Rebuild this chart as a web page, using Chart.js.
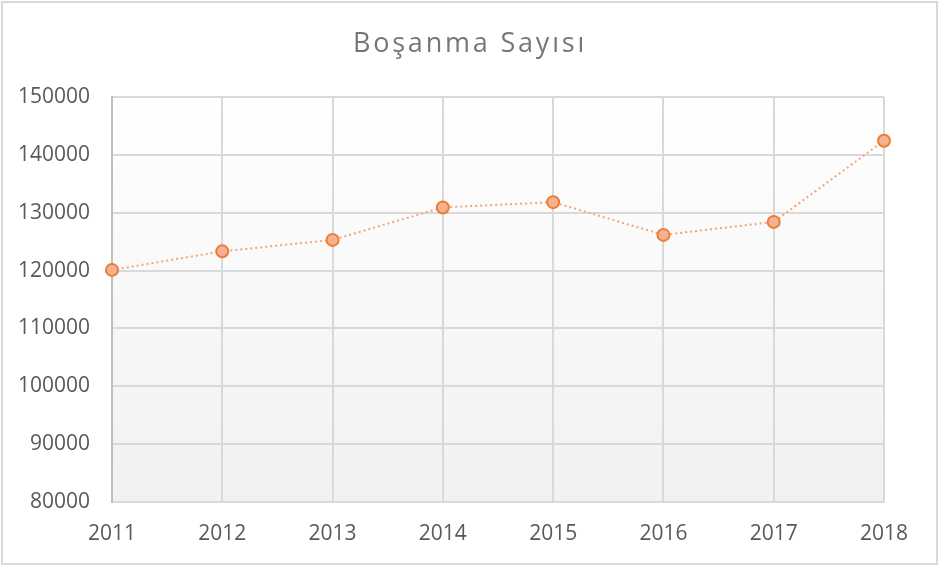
<!DOCTYPE html>
<html>
<head>
<meta charset="utf-8">
<script src="https://cdn.jsdelivr.net/npm/chart.js@4.4.1/dist/chart.umd.min.js"></script>
<style>
  html, body { margin: 0; padding: 0; background: #fff; }
  #wrap { width: 940px; height: 566px; position: relative; }
</style>
</head>
<body>
<div id="wrap"><canvas id="canvas" width="940" height="566"></canvas></div>
<script>
// Boşanma sayıları (yıllara göre)
const titleText = 'Boşanma Sayısı';
const years = ['2011', '2012', '2013', '2014', '2015', '2016', '2017', '2018'];
const divorces = [120117, 123325, 125305, 130913, 131830, 126164, 128411, 142448];
const yMin = 80000;
const yMax = 150000;
const yStep = 10000;

const FONT = '"Open Sans", "Liberation Sans", sans-serif';

// plot area gradient, outer frame and the spaced-out title
const chartBackground = {
    id: 'chartBackground',
    beforeDraw(chart) {
        const {ctx, chartArea} = chart;
        const g = ctx.createLinearGradient(0, chartArea.top, 0, chartArea.bottom);
        g.addColorStop(0, '#ffffff');
        g.addColorStop(1, '#f1f1f1');
        ctx.save();
        ctx.fillStyle = g;
        ctx.fillRect(chartArea.left, chartArea.top, chartArea.right - chartArea.left, chartArea.bottom - chartArea.top);
        ctx.restore();
    },
    afterDraw(chart) {
        const {ctx} = chart;
        ctx.save();
        ctx.strokeStyle = '#d9d9d9';
        ctx.lineWidth = 2;
        ctx.strokeRect(2, 2, 935, 562);

        ctx.font = '27px ' + FONT;
        ctx.letterSpacing = '2.8px';
        ctx.fillStyle = '#767676';
        ctx.textAlign = 'center';
        ctx.textBaseline = 'middle';
        ctx.fillText(titleText, chart.width / 2, 44);
        ctx.restore();
    }
};

const ctx = document.getElementById('canvas');
new Chart(ctx, {
    type: 'line',
    data: {
        labels: years,
        datasets: [{
            label: titleText,
            data: divorces,
            borderColor: '#f4a47a',
            borderWidth: 2,
            borderDash: [2, 3],
            tension: 0,
            pointRadius: 6,
            pointHoverRadius: 6,
            pointBackgroundColor: '#f5b193',
            pointBorderColor: '#ed7d31',
            pointBorderWidth: 2
        }]
    },
    plugins: [chartBackground],
    options: {
        responsive: false,
        animation: false,
        layout: { padding: { top: 97, right: 56, bottom: 0, left: 0 } },
        plugins: {
            legend: { display: false },
            tooltip: { enabled: false },
            title: { display: false }
        },
        scales: {
            x: {
                offset: false,
                grid: { color: '#d9d9d9', lineWidth: 2, drawTicks: false },
                border: { color: '#d9d9d9', width: 2 },
                ticks: {
                    color: '#595959',
                    font: { family: FONT, size: 21 },
                    padding: 19,
                    maxRotation: 0,
                    autoSkip: false
                },
                afterFit(scale) { scale.height = 64; }
            },
            y: {
                min: yMin,
                max: yMax,
                grid: { color: '#d9d9d9', lineWidth: 2, drawTicks: false },
                border: { color: '#bfbfbf', width: 2 },
                ticks: {
                    stepSize: yStep,
                    color: '#595959',
                    font: { family: FONT, size: 21 },
                    padding: 22,
                    callback: (v) => String(v)
                },
                afterFit(scale) { scale.width = 112; }
            }
        }
    }
});
</script>
</body>
</html>
